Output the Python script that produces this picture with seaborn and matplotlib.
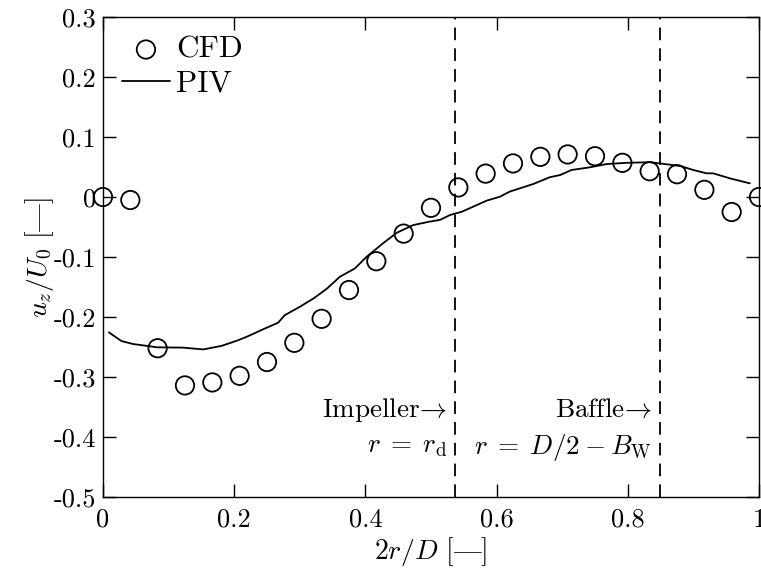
import numpy as np
import pandas as pd
import matplotlib
matplotlib.use("Agg")
import matplotlib.pyplot as plt
import seaborn as sns

# CFD data (circles)
cfd_x = [0.0, 0.0417, 0.0833, 0.125, 0.1667, 0.2083, 0.25, 0.2917, 0.3333, 0.375,
         0.4167, 0.4583, 0.5, 0.5417, 0.5833, 0.625, 0.6667, 0.7083, 0.75, 0.7917,
         0.8333, 0.875, 0.9167, 0.9583, 1.0]
cfd_y = [0.0, -0.005, -0.252, -0.314, -0.309, -0.298, -0.275, -0.243, -0.203, -0.155,
         -0.107, -0.061, -0.018, 0.016, 0.039, 0.056, 0.067, 0.071, 0.068, 0.057,
         0.043, 0.038, 0.012, -0.025, 0.0]

# PIV data (line)
piv_x = [0.009, 0.028, 0.046, 0.083, 0.122, 0.153, 0.181, 0.204, 0.219, 0.244,
         0.267, 0.277, 0.300, 0.321, 0.341, 0.361, 0.384, 0.402, 0.427, 0.448,
         0.473, 0.498, 0.514, 0.529, 0.547, 0.585, 0.605, 0.620, 0.656, 0.681,
         0.697, 0.714, 0.742, 0.768, 0.798, 0.834, 0.849, 0.880, 0.900, 0.920,
         0.930, 0.956, 0.986]
piv_y = [-0.2255, -0.240, -0.245, -0.2505, -0.251, -0.254, -0.248, -0.2395, -0.233, -0.2205,
         -0.2095, -0.197, -0.183, -0.169, -0.153, -0.133, -0.119, -0.0995, -0.077, -0.0595,
         -0.0467, -0.041, -0.038, -0.030, -0.0245, -0.006, 0.0005, 0.009, 0.0217, 0.033,
         0.0367, 0.045, 0.0495, 0.055, 0.057, 0.058, 0.056, 0.0517, 0.045, 0.0395,
         0.0395, 0.031, 0.0228]

x_ticks = [0, 0.2, 0.4, 0.6, 0.8, 1.0]
x_ticklabels = ["0", "0.2", "0.4", "0.6", "0.8", "1"]
y_ticks = [0.3, 0.2, 0.1, 0.0, -0.1, -0.2, -0.3, -0.4, -0.5]
y_ticklabels = ["0.3", "0.2", "0.1", "0", "-0.1", "-0.2", "-0.3", "-0.4", "-0.5"]

vlines_x = [0.5366, 0.849]

sns.set_theme(style="ticks")
plt.rcParams["font.family"] = ["cmr10", "DejaVu Serif"]
plt.rcParams["mathtext.fontset"] = "cm"
plt.rcParams["axes.unicode_minus"] = False
plt.rcParams["axes.linewidth"] = 1.0
plt.rcParams["text.color"] = "black"
plt.rcParams["axes.labelcolor"] = "black"
plt.rcParams["xtick.color"] = "black"
plt.rcParams["ytick.color"] = "black"
plt.rcParams["axes.edgecolor"] = "black"

fs = 19

fig = plt.figure(figsize=(7.61, 5.77), dpi=100)
ax = fig.add_axes([0.1353, 0.1386, 0.9974 - 0.1353, 0.9705 - 0.1386])

df_cfd = pd.DataFrame({"x": cfd_x, "y": cfd_y})
df_piv = pd.DataFrame({"x": piv_x, "y": piv_y})

sns.lineplot(data=df_piv, x="x", y="y", ax=ax, color="black", linewidth=1.3,
             label="PIV", sort=False)
sns.scatterplot(data=df_cfd, x="x", y="y", ax=ax, marker="o", s=175,
                facecolor="none", edgecolor="black", linewidth=1.3,
                label="CFD", clip_on=False, zorder=5)

for xv in vlines_x:
    ax.axvline(xv, color="black", linewidth=1.3, linestyle=(0, (7, 4.5)))

ax.set_xlim(0, 1)
ax.set_ylim(-0.5, 0.3)
ax.set_xticks(x_ticks)
ax.set_xticklabels(x_ticklabels)
ax.set_yticks(y_ticks)
ax.set_yticklabels(y_ticklabels)
ax.tick_params(direction="in", length=9.5, width=1.0, top=True, right=True,
               labelsize=fs)
ax.tick_params(axis="y", pad=5)
ax.tick_params(axis="x", pad=8)

ax.set_xlabel(r"$2r/D\ [\mathrm{—}]$", fontsize=fs + 1, labelpad=2)
ax.set_ylabel(r"$u_z/U_0\ [\mathrm{—}]$", fontsize=fs + 1, labelpad=-2)

ax.text(vlines_x[0] - 0.012, -0.355, r"Impeller$\!\rightarrow$", ha="right", va="center",
        fontsize=fs + 0.5)
ax.text(vlines_x[0] - 0.012, -0.417, r"$r\;=\;r_\mathrm{d}$", ha="right", va="center",
        fontsize=fs + 0.5)
ax.text(vlines_x[1] - 0.012, -0.355, r"Baffle$\!\rightarrow$", ha="right", va="center",
        fontsize=fs + 0.5)
ax.text(vlines_x[1] - 0.012, -0.417, r"$r\;=\;D/2-B_\mathrm{W}$", ha="right", va="center",
        fontsize=fs + 0.5)

handles, labels = ax.get_legend_handles_labels()
order = [labels.index("CFD"), labels.index("PIV")]
ax.legend([handles[i] for i in order], [labels[i] for i in order],
          loc="upper left", frameon=False, fontsize=22.5, handlelength=1.55,
          handletextpad=0.2, labelspacing=0.2, borderaxespad=0.3, borderpad=0.3)

fig.savefig("out.png", dpi=100)
